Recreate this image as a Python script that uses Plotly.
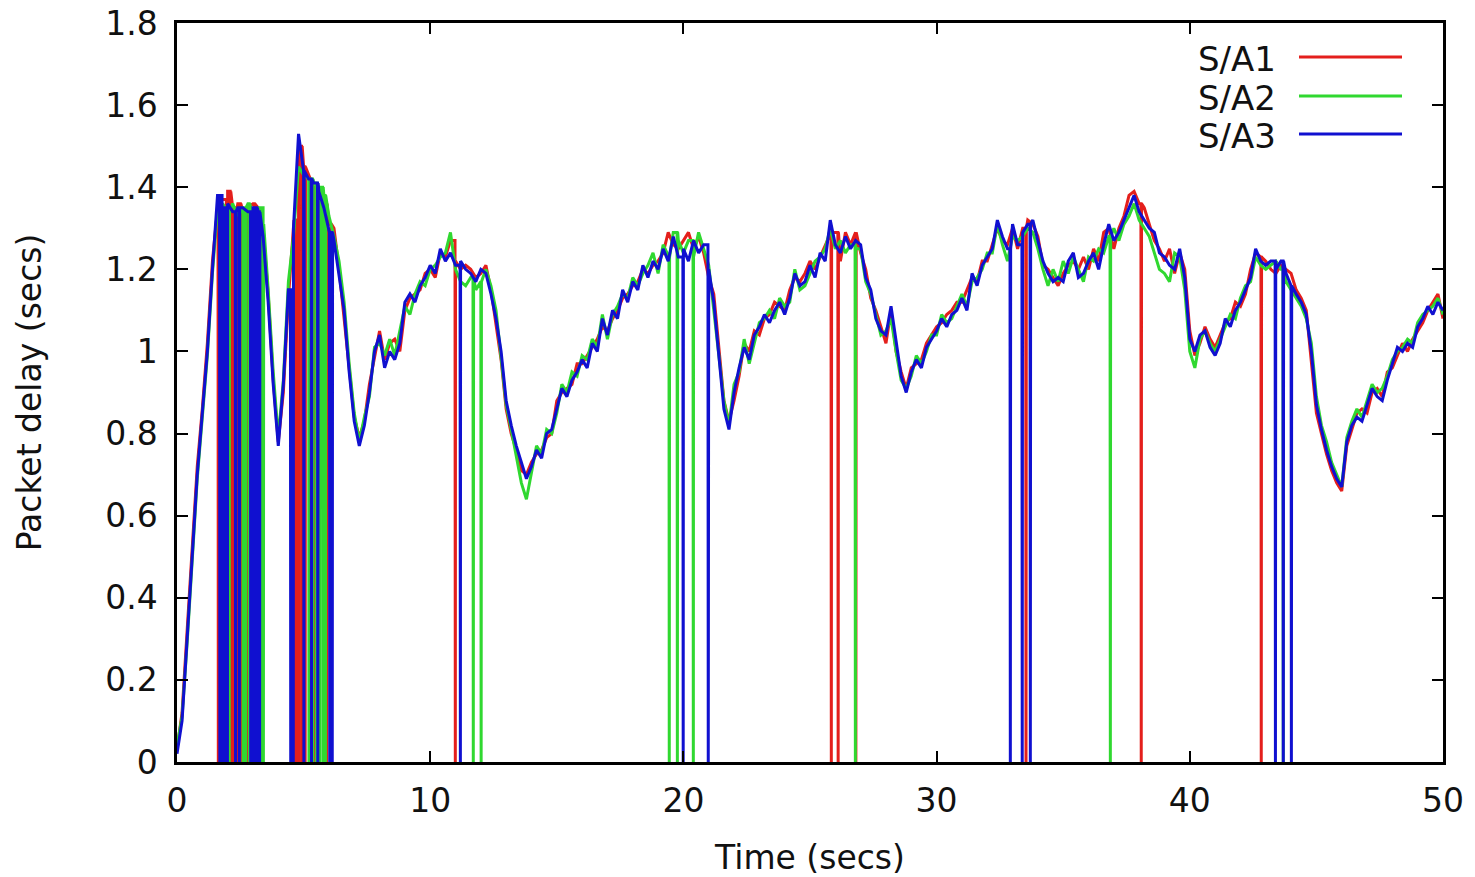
import plotly.graph_objects as go

# ---------------- data ----------------
SAMPLE_STEP = 0.2  # seconds between samples

series_names = ["S/A1", "S/A2", "S/A3"]
series_colors = ["#e41f1c", "#30d830", "#1010d0"]

sa1_delay = [
    0.03, 0.12, 0.32, 0.52, 0.72,
    0.86, 1.02, 1.22, 1.36, 1.37,
    1.39, 1.35, 1.36, 1.34, 1.35,
    1.36, 1.35, 1.30, 1.14, 0.93,
    0.78, 0.90, 1.13, 1.32, 1.50,
    1.45, 1.43, 1.40, 1.38, 1.36,
    1.31, 1.30, 1.20, 1.08, 0.96,
    0.84, 0.79, 0.83, 0.92, 0.99,
    1.05, 0.98, 1.02, 1.03, 1.00,
    1.10, 1.13, 1.14, 1.15, 1.19,
    1.20, 1.18, 1.24, 1.23, 1.27,
    1.22, 1.20, 1.21, 1.20, 1.18,
    1.19, 1.21, 1.15, 1.06, 0.98,
    0.86, 0.80, 0.76, 0.71, 0.70,
    0.73, 0.75, 0.76, 0.79, 0.80,
    0.88, 0.90, 0.91, 0.92, 0.97,
    0.97, 0.99, 1.01, 1.03, 1.06,
    1.05, 1.08, 1.10, 1.13, 1.14,
    1.16, 1.17, 1.20, 1.19, 1.21,
    1.22, 1.24, 1.29, 1.26, 1.25,
    1.27, 1.29, 1.25, 1.28, 1.24,
    1.18, 1.14, 1.00, 0.88, 0.83,
    0.88, 0.94, 1.02, 1.00, 1.05,
    1.04, 1.08, 1.09, 1.12, 1.11,
    1.10, 1.15, 1.18, 1.17, 1.19,
    1.22, 1.20, 1.23, 1.26, 1.29,
    1.29, 1.22, 1.29, 1.26, 1.29,
    1.24, 1.20, 1.13, 1.10, 1.06,
    1.02, 1.10, 1.00, 0.95, 0.91,
    0.96, 0.97, 0.98, 1.02, 1.04,
    1.06, 1.07, 1.09, 1.10, 1.12,
    1.12, 1.15, 1.18, 1.17, 1.22,
    1.22, 1.26, 1.30, 1.27, 1.26,
    1.30, 1.25, 1.30, 1.32, 1.31,
    1.28, 1.21, 1.20, 1.18, 1.16,
    1.19, 1.21, 1.22, 1.20, 1.23,
    1.20, 1.25, 1.22, 1.29, 1.30,
    1.25, 1.30, 1.33, 1.38, 1.39,
    1.36, 1.35, 1.31, 1.27, 1.25,
    1.22, 1.25, 1.19, 1.24, 1.20,
    1.05, 0.99, 1.02, 1.06, 1.03,
    1.01, 1.04, 1.07, 1.08, 1.12,
    1.11, 1.14, 1.20, 1.24, 1.23,
    1.22, 1.20, 1.19, 1.21, 1.20,
    1.19, 1.15, 1.13, 1.10, 0.98,
    0.85, 0.80, 0.75, 0.71, 0.68,
    0.66, 0.77, 0.81, 0.85, 0.86,
    0.85, 0.90, 0.91, 0.89, 0.95,
    0.96, 0.99, 1.02, 1.00, 1.03,
    1.05, 1.07, 1.10, 1.12, 1.14,
    1.08,
]

sa2_delay = [
    0.04, 0.11, 0.29, 0.49, 0.69,
    0.84, 0.99, 1.19, 1.35, 1.36,
    1.34, 1.36, 1.33, 1.35, 1.36,
    1.33, 1.35, 1.31, 1.15, 0.95,
    0.79, 0.93, 1.17, 1.28, 1.45,
    1.43, 1.42, 1.41, 1.40, 1.38,
    1.33, 1.28, 1.22, 1.12, 0.97,
    0.85, 0.78, 0.84, 0.89, 1.01,
    1.02, 0.99, 1.03, 0.99, 1.05,
    1.11, 1.09, 1.14, 1.17, 1.16,
    1.20, 1.21, 1.23, 1.24, 1.29,
    1.20, 1.17, 1.16, 1.18, 1.15,
    1.17, 1.20, 1.16, 1.10, 0.99,
    0.87, 0.81, 0.74, 0.68, 0.64,
    0.71, 0.77, 0.75, 0.81, 0.80,
    0.85, 0.92, 0.90, 0.95, 0.94,
    0.99, 0.98, 1.03, 1.01, 1.09,
    1.03, 1.09, 1.11, 1.14, 1.13,
    1.18, 1.16, 1.19, 1.21, 1.24,
    1.19, 1.26, 1.23, 1.29, 1.27,
    1.24, 1.27, 1.23, 1.29, 1.25,
    1.21, 1.10, 0.99, 0.88, 0.82,
    0.92, 0.95, 1.03, 0.97, 1.02,
    1.07, 1.08, 1.10, 1.08, 1.13,
    1.11, 1.12, 1.20, 1.15, 1.16,
    1.19, 1.22, 1.23, 1.25, 1.30,
    1.25, 1.27, 1.24, 1.26, 1.25,
    1.25, 1.17, 1.14, 1.09, 1.04,
    1.05, 1.08, 1.00, 0.93, 0.91,
    0.94, 0.99, 0.97, 1.00, 1.04,
    1.04, 1.09, 1.07, 1.08, 1.11,
    1.14, 1.11, 1.17, 1.18, 1.20,
    1.24, 1.24, 1.31, 1.26, 1.22,
    1.28, 1.27, 1.28, 1.30, 1.29,
    1.25, 1.20, 1.16, 1.20, 1.17,
    1.22, 1.19, 1.23, 1.20, 1.17,
    1.23, 1.22, 1.25, 1.24, 1.28,
    1.30, 1.27, 1.31, 1.33, 1.36,
    1.32, 1.30, 1.28, 1.24, 1.20,
    1.19, 1.17, 1.24, 1.23, 1.15,
    1.00, 0.96, 1.03, 1.05, 1.02,
    1.00, 1.03, 1.06, 1.09, 1.08,
    1.13, 1.16, 1.17, 1.23, 1.21,
    1.20, 1.21, 1.22, 1.20, 1.17,
    1.15, 1.13, 1.11, 1.08, 1.02,
    0.89, 0.82, 0.78, 0.73, 0.70,
    0.67, 0.79, 0.83, 0.86, 0.84,
    0.88, 0.92, 0.90, 0.91, 0.94,
    0.98, 1.00, 1.01, 1.03, 1.02,
    1.07, 1.09, 1.10, 1.11, 1.13,
    1.09,
]

sa3_delay = [
    0.02, 0.10, 0.30, 0.50, 0.70,
    0.85, 1.00, 1.20, 1.38, 1.35,
    1.36, 1.34, 1.35, 1.35, 1.34,
    1.35, 1.34, 1.28, 1.12, 0.92,
    0.77, 0.92, 1.15, 1.30, 1.53,
    1.44, 1.42, 1.41, 1.39, 1.35,
    1.29, 1.27, 1.18, 1.10, 0.95,
    0.83, 0.77, 0.82, 0.90, 1.00,
    1.04, 0.96, 1.00, 0.98, 1.02,
    1.12, 1.14, 1.12, 1.16, 1.18,
    1.21, 1.19, 1.25, 1.22, 1.24,
    1.21, 1.22, 1.20, 1.19, 1.17,
    1.20, 1.19, 1.14, 1.08, 1.00,
    0.88, 0.82, 0.77, 0.73, 0.69,
    0.72, 0.76, 0.74, 0.80, 0.81,
    0.86, 0.91, 0.89, 0.93, 0.95,
    0.98, 0.96, 1.02, 1.00, 1.08,
    1.04, 1.10, 1.08, 1.15, 1.12,
    1.17, 1.15, 1.21, 1.18, 1.22,
    1.20, 1.25, 1.22, 1.28, 1.23,
    1.25, 1.22, 1.27, 1.24, 1.26,
    1.20, 1.12, 0.98, 0.86, 0.81,
    0.90, 0.96, 1.01, 0.98, 1.04,
    1.06, 1.09, 1.07, 1.10, 1.12,
    1.09, 1.13, 1.19, 1.16, 1.17,
    1.21, 1.18, 1.24, 1.22, 1.32,
    1.26, 1.24, 1.28, 1.25, 1.27,
    1.26, 1.18, 1.15, 1.08, 1.05,
    1.04, 1.11, 1.02, 0.94, 0.90,
    0.95, 0.98, 0.96, 1.01, 1.03,
    1.05, 1.08, 1.06, 1.09, 1.10,
    1.13, 1.10, 1.19, 1.16, 1.21,
    1.23, 1.25, 1.32, 1.28, 1.25,
    1.31, 1.26, 1.29, 1.31, 1.32,
    1.27, 1.22, 1.19, 1.17, 1.18,
    1.17, 1.22, 1.24, 1.18, 1.19,
    1.22, 1.24, 1.20, 1.26, 1.31,
    1.27, 1.29, 1.32, 1.35, 1.38,
    1.34, 1.32, 1.30, 1.29, 1.24,
    1.23, 1.21, 1.20, 1.25, 1.18,
    1.03, 1.00, 1.04, 1.05, 1.01,
    0.99, 1.02, 1.08, 1.06, 1.10,
    1.12, 1.15, 1.18, 1.25, 1.22,
    1.21, 1.22, 1.20, 1.22, 1.19,
    1.16, 1.14, 1.12, 1.09, 1.00,
    0.87, 0.81, 0.76, 0.72, 0.69,
    0.67, 0.78, 0.82, 0.84, 0.83,
    0.87, 0.91, 0.89, 0.88, 0.93,
    0.97, 1.01, 1.00, 1.02, 1.01,
    1.06, 1.08, 1.11, 1.09, 1.12,
    1.10,
]

# times (s) at which each series' packet delay momentarily drops to zero
sa1_drops = [1.62, 1.95, 2.10, 2.22, 2.35, 2.50, 2.75, 3.05,
             4.62, 4.70, 4.80, 4.92, 5.05, 5.40, 5.90, 6.08,
             10.98, 25.83, 26.10, 26.80, 33.52, 38.07, 42.81]
sa2_drops = [1.75, 2.05, 2.60, 2.70, 2.85, 3.30, 3.40,
             5.20, 5.35, 5.50, 5.62, 5.75, 5.85,
             11.69, 12.00, 19.43, 19.75, 20.38, 26.78, 36.85, 43.68]
sa3_drops = [1.68, 1.78, 1.88, 1.98, 2.30, 2.45, 2.90, 2.98, 3.08, 3.15, 3.25,
             4.48, 4.58, 5.00, 5.30, 5.55, 6.02, 6.12,
             11.18, 19.98, 20.97, 32.90, 33.37, 33.69, 43.37, 43.68, 44.00]

x_ticks = [0, 10, 20, 30, 40, 50]
y_ticks = [0, 0.2, 0.4, 0.6, 0.8, 1.0, 1.2, 1.4, 1.6, 1.8]
y_tick_text = ["0", "0.2", "0.4", "0.6", "0.8", "1", "1.2", "1.4", "1.6", "1.8"]


def build_trace_points(values, drops):
    xs, ys = [], []
    n = len(values)
    for i, v in enumerate(values):
        t = round(i * SAMPLE_STEP, 6)
        xs.append(t)
        ys.append(v)
        t_next = (i + 1) * SAMPLE_STEP
        for d in drops:
            if t <= d < t_next and i < n - 1:
                xs += [d, d + 0.012, d + 0.024]
                ys += [v, 0.0, v]
    return xs, ys


FONT = "DejaVu Sans"
FS_TICK = 33
FS_TITLE = 33
FS_LEG = 34
LW = 3

fig = go.Figure()
for name, color, vals, drops in zip(series_names, series_colors,
                                    [sa1_delay, sa2_delay, sa3_delay],
                                    [sa1_drops, sa2_drops, sa3_drops]):
    xs, ys = build_trace_points(vals, drops)
    fig.add_trace(go.Scatter(x=xs, y=ys, mode="lines", name=name,
                             line=dict(color=color, width=LW),
                             showlegend=False, hoverinfo="skip"))

# plot area in pixels: left 177, right 1443, top 23, bottom 762
L, R, T, B = 177, 1443, 23, 762
W, H = 1475, 877


def px_to_paper(px, py):
    return (px - L) / (R - L), (B - py) / (B - T)


shapes = []
annotations = []
legend_rows_y = [57, 96, 134]
for name, color, py in zip(series_names, series_colors, legend_rows_y):
    x0, y0 = px_to_paper(1299, py)
    x1, _ = px_to_paper(1402, py)
    shapes.append(dict(type="line", xref="paper", yref="paper",
                       x0=x0, x1=x1, y0=y0, y1=y0,
                       line=dict(color=color, width=LW)))
    tx, ty = px_to_paper(1278, py + 2)
    annotations.append(dict(text=name, xref="paper", yref="paper",
                            x=tx, y=ty, xanchor="right", yanchor="middle",
                            showarrow=False,
                            font=dict(family=FONT, size=FS_LEG, color="#111")))

fig.update_layout(
    width=W, height=H,
    margin=dict(l=L, r=W - R, t=T, b=H - B),
    paper_bgcolor="white", plot_bgcolor="white",
    font=dict(family=FONT, size=FS_TICK, color="#111"),
    shapes=shapes, annotations=annotations,
    showlegend=False, hovermode=False,
)
fig.update_xaxes(
    range=[0, 50], tickvals=x_ticks, ticktext=[str(v) for v in x_ticks],
    ticks="inside", ticklen=11, tickwidth=2, tickcolor="black",
    showline=True, linewidth=2.5, linecolor="black", mirror="allticks",
    showgrid=False, zeroline=False, automargin=False,
    ticklabelstandoff=8, ticklabeloverflow="allow",
    tickfont=dict(family=FONT, size=FS_TICK, color="#111"),
    title=dict(text="Time (secs)", font=dict(family=FONT, size=FS_TITLE, color="#111"),
               standoff=28),
)
fig.update_yaxes(
    range=[0, 1.8], tickvals=y_ticks, ticktext=y_tick_text,
    ticks="inside", ticklen=11, tickwidth=2, tickcolor="black",
    showline=True, linewidth=2.5, linecolor="black", mirror="allticks",
    showgrid=False, zeroline=False, automargin=False,
    ticklabelstandoff=10, ticklabeloverflow="allow",
    tickfont=dict(family=FONT, size=FS_TICK, color="#111"),
    title=dict(text="Packet delay (secs)", font=dict(family=FONT, size=FS_TITLE, color="#111"),
               standoff=54),
)

fig.write_html("out.html",
               config={"displayModeBar": False},
               post_script="document.body.style.margin='0';document.body.style.overflow='hidden';")
